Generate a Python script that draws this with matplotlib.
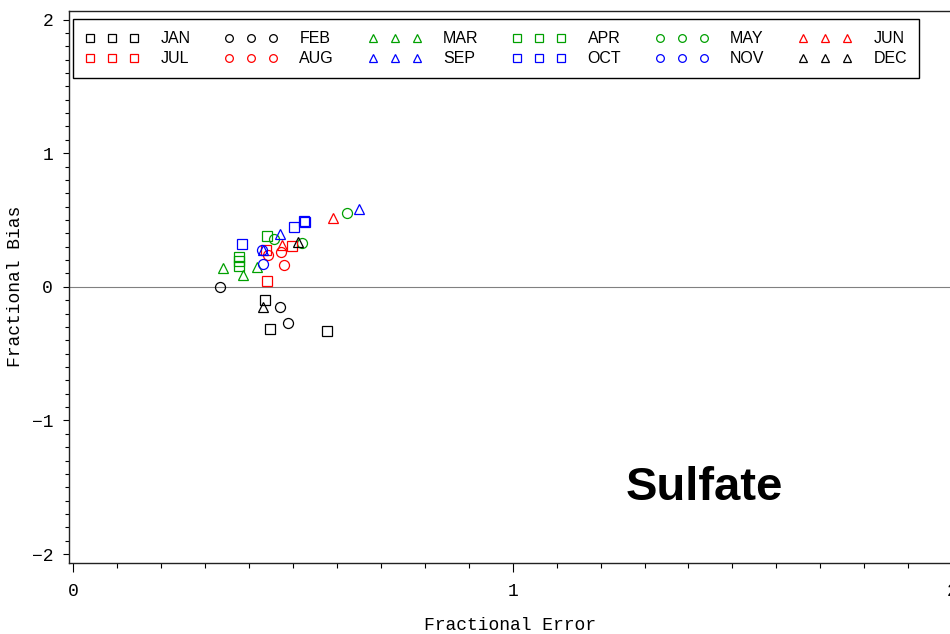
import matplotlib
matplotlib.use('Agg')
import matplotlib.pyplot as plt
from matplotlib.ticker import MultipleLocator

# fractional error (x) / fractional bias (y) per month
jan_x = [0.436, 0.448, 0.577]
jan_y = [-0.10, -0.319, -0.334]
feb_x = [0.334, 0.471, 0.488]
feb_y = [0.0, -0.154, -0.274]
mar_x = [0.340, 0.386, 0.417]
mar_y = [0.142, 0.088, 0.150]
apr_x = [0.376, 0.376, 0.376, 0.440]
apr_y = [0.224, 0.192, 0.157, 0.381]
may_x = [0.622, 0.457, 0.521]
may_y = [0.556, 0.355, 0.325]
jun_x = [0.590, 0.474]
jun_y = [0.516, 0.314]
jul_x = [0.497, 0.439, 0.440]
jul_y = [0.307, 0.274, 0.043]
aug_x = [0.473, 0.444, 0.480]
aug_y = [0.263, 0.242, 0.162]
sep_x = [0.651, 0.470, 0.431]
sep_y = [0.581, 0.394, 0.274]
oct_x = [0.524, 0.527, 0.502, 0.383]
oct_y = [0.495, 0.488, 0.449, 0.317]
nov_x = [0.429, 0.431]
nov_y = [0.274, 0.168]
dec_x = [0.512, 0.432]
dec_y = [0.338, -0.148]

green = '#00a000'
months = [
    ('JAN', jan_x, jan_y, 's', 'black'),
    ('FEB', feb_x, feb_y, 'o', 'black'),
    ('MAR', mar_x, mar_y, '^', green),
    ('APR', apr_x, apr_y, 's', green),
    ('MAY', may_x, may_y, 'o', green),
    ('JUN', jun_x, jun_y, '^', 'red'),
    ('JUL', jul_x, jul_y, 's', 'red'),
    ('AUG', aug_x, aug_y, 'o', 'red'),
    ('SEP', sep_x, sep_y, '^', 'blue'),
    ('OCT', oct_x, oct_y, 's', 'blue'),
    ('NOV', nov_x, nov_y, 'o', 'blue'),
    ('DEC', dec_x, dec_y, '^', 'black'),
]

mono = ['Liberation Mono', 'DejaVu Sans Mono']

fig = plt.figure(figsize=(9.5, 6.34), dpi=100)
ax = fig.add_axes([68.7/950, 1-562.7/634, (952.1-68.7)/950, (562.7-11)/634])

handles = {}
for name, xs, ys, mk, col in months:
    h, = ax.plot(xs, ys, linestyle='none', marker=mk, ms=7.2, mfc='none',
                 mec=col, mew=0.9, label=name)
    handles[name] = h

ax.axhline(0, color='#808080', lw=0.8, zorder=0.5)

ax.set_xlim(-0.0105, 2.0)
ax.set_ylim(-2.064, 2.064)
ax.xaxis.set_major_locator(MultipleLocator(1))
ax.xaxis.set_minor_locator(MultipleLocator(0.1))
ax.yaxis.set_major_locator(MultipleLocator(1))
ax.yaxis.set_minor_locator(MultipleLocator(0.1))
ax.tick_params(axis='x', which='major', length=6.5, width=0.8, pad=8)
ax.tick_params(axis='x', which='minor', length=3.6, width=0.8)
ax.tick_params(axis='y', which='major', length=4.3, width=0.8, pad=7)
ax.tick_params(axis='y', which='minor', length=2.9, width=0.8)
for lab in ax.get_xticklabels() + ax.get_yticklabels():
    lab.set_family(mono)
    lab.set_fontsize(13)
for sp in ax.spines.values():
    sp.set_linewidth(1.0)
    sp.set_color('#222222')

ax.set_xlabel('Fractional Error', family=mono, fontsize=13)
ax.set_ylabel('Fractional Bias', family=mono, fontsize=13)
ax.xaxis.set_label_coords(0.5, -0.098)
ax.yaxis.set_label_coords(-0.051, 0.5)

ax.text(1.258, -1.595, 'Sulfate', fontsize=34, fontweight='bold',
        family='Liberation Sans', ha='left', va='baseline')

order = ['JAN', 'JUL', 'FEB', 'AUG', 'MAR', 'SEP',
         'APR', 'OCT', 'MAY', 'NOV', 'JUN', 'DEC']
leg = ax.legend([handles[m] for m in order], order, ncol=6, numpoints=3,
                loc='upper left', mode='expand',
                bbox_to_anchor=(73.3/950, 1-78.3/634, 845.7/950, 59/634),
                bbox_transform=fig.transFigure, borderaxespad=0,
                fancybox=False, framealpha=1, edgecolor='black',
                handlelength=3.35, handletextpad=1.35, borderpad=0.75,
                labelspacing=0.32, markerscale=0.77,
                prop={'family': 'Liberation Sans', 'size': 11.5})
leg.get_frame().set_linewidth(1.0)

fig.savefig('out.png', dpi=100)
